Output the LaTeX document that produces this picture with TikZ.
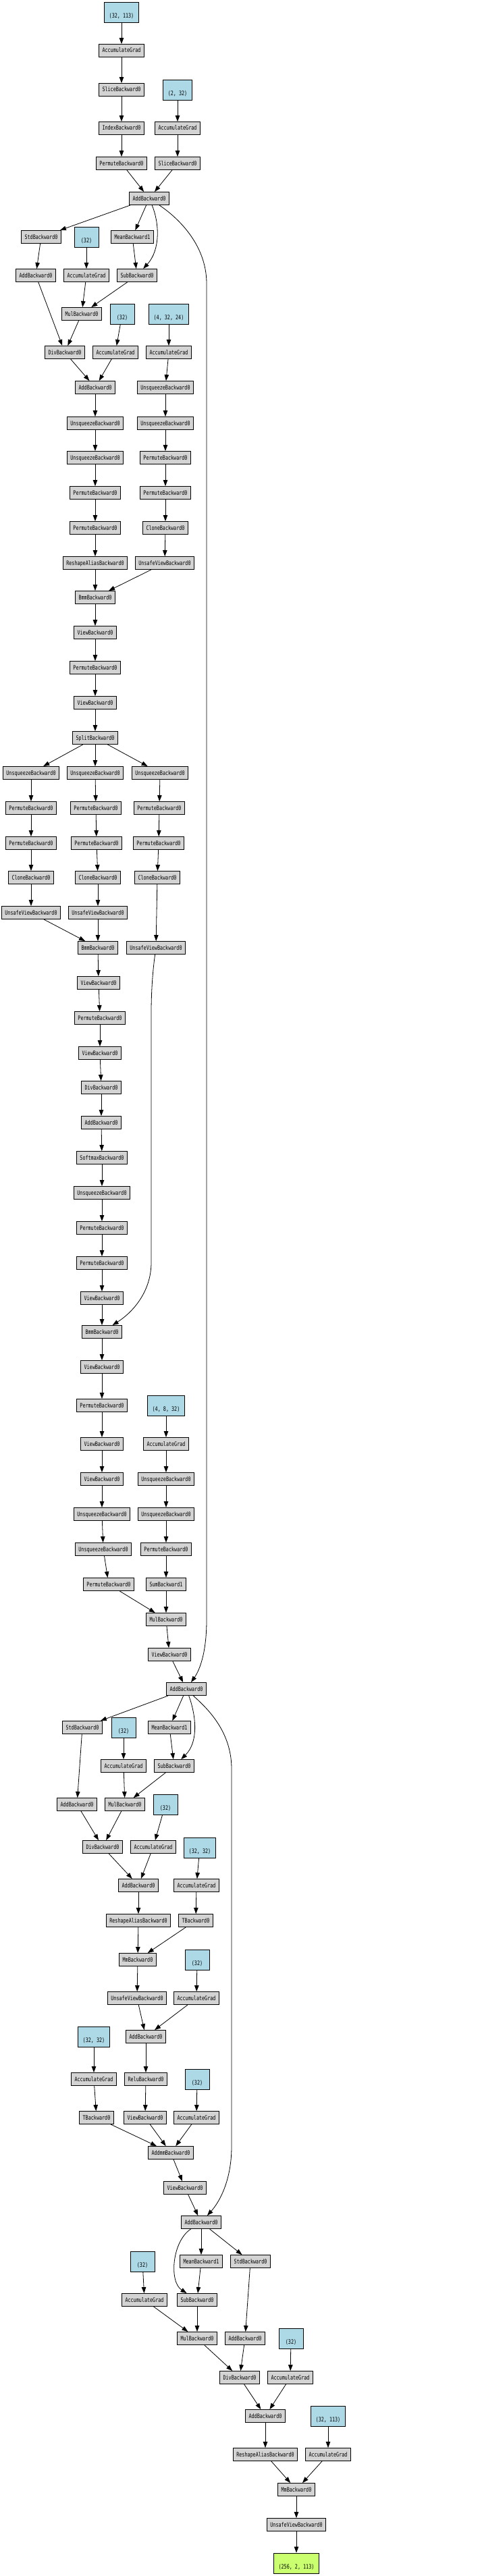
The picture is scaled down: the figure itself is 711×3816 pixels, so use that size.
\documentclass[tikz,border=0pt]{standalone}
\usepackage{fontspec}
\newfontfamily\gvfont[FakeStretch=0.75]{DejaVu Sans Mono}
\usetikzlibrary{arrows.meta}
\definecolor{gvgray}{HTML}{D3D3D3}
\definecolor{gvblue}{HTML}{ADD8E6}
\definecolor{gvgreen}{HTML}{CAFF70}
\begin{document}
\begin{tikzpicture}[x=1pt,y=-1pt,
  gn/.style={draw=black, line width=0.9pt, fill=gvgray, rectangle, inner xsep=5pt, inner ysep=0pt,
    minimum height=19pt, text height=6.6pt, text depth=0.6pt, font=\gvfont\fontsize{9}{11}\selectfont},
  bn/.style={draw=black, line width=0.9pt, fill=gvblue, rectangle, inner xsep=7pt, inner ysep=0pt,
    minimum height=30pt, minimum width=36pt, align=center, font=\gvfont\fontsize{9}{11}\selectfont},
  on/.style={bn, fill=gvgreen},
  conn/.style={draw=black, line width=0.8pt, -{Triangle[length=9pt,width=6.5pt]}}]
\fill[white] (0,0) rectangle (711,3816);
\useasboundingbox (0,0) rectangle (711,3816);
% ---- top
\node[bn] (p1) at (180,18) {\strut\\(32, 113)};
\node[gn] (ag1) at (180,75) {AccumulateGrad};
\node[gn] (sl1) at (180,133) {SliceBackward0};
\node[gn] (idx) at (180,190) {IndexBackward0};
\node[gn] (pm1) at (180,242) {PermuteBackward0};
\node[bn] (p2) at (263,133) {\strut\\(2, 32)};
\node[gn] (ag2) at (263,190) {AccumulateGrad};
\node[gn] (sl2) at (263,242) {SliceBackward0};
\node[gn] (add1) at (221,294) {AddBackward0};
% ---- layer norm 1
\node[gn] (std1) at (61,351) {StdBackward0};
\node[bn] (p3) at (128,351) {\strut\\(32)};
\node[gn] (mean1) at (196,351) {MeanBackward1};
\node[gn] (add2) at (53,408) {AddBackward0};
\node[gn] (ag3) at (128,408) {AccumulateGrad};
\node[gn] (sub1) at (203,408) {SubBackward0};
\node[gn] (mul1) at (121,465) {MulBackward0};
\node[bn] (p4) at (181,465) {\strut\\(32)};
\node[bn] (p5) at (250,465) {\strut\\(4, 32, 24)};
\node[gn] (div1) at (96,522) {DivBackward0};
\node[gn] (ag4) at (171,522) {AccumulateGrad};
\node[gn] (ag5) at (250,522) {AccumulateGrad};
\node[gn] (add3) at (141,574) {AddBackward0};
\node[gn] (unsqR1) at (245,574) {UnsqueezeBackward0};
\node[gn] (unsq1) at (141,627) {UnsqueezeBackward0};
\node[gn] (unsqR2) at (245,627) {UnsqueezeBackward0};
\node[gn] (unsq2) at (141,678) {UnsqueezeBackward0};
\node[gn] (pmR1) at (245,678) {PermuteBackward0};
\node[gn] (pm2) at (141,730) {PermuteBackward0};
\node[gn] (pmR2) at (245,730) {PermuteBackward0};
\node[gn] (pm3) at (141,782) {PermuteBackward0};
\node[gn] (clR) at (245,782) {CloneBackward0};
\node[gn] (rsh1) at (141,834) {ReshapeAliasBackward0};
\node[gn] (uvR) at (244,834) {UnsafeViewBackward0};
\node[gn] (bmm1) at (141,885) {BmmBackward0};
\node[gn] (view1) at (141,937) {ViewBackward0};
\node[gn] (pm4) at (141,989) {PermuteBackward0};
\node[gn] (view2) at (141,1041) {ViewBackward0};
\node[gn] (split) at (141,1093) {SplitBackward0};
\node[gn] (unsqA) at (46,1145) {UnsqueezeBackward0};
\node[gn] (unsqB) at (141,1145) {UnsqueezeBackward0};
\node[gn] (unsqC) at (237,1145) {UnsqueezeBackward0};
\node[gn] (pmA1) at (46,1197) {PermuteBackward0};
\node[gn] (pmB1) at (142,1197) {PermuteBackward0};
\node[gn] (pmC1) at (236,1197) {PermuteBackward0};
\node[gn] (pmA2) at (46,1249) {PermuteBackward0};
\node[gn] (pmB2) at (143,1249) {PermuteBackward0};
\node[gn] (pmC2) at (235,1249) {PermuteBackward0};
\node[gn] (clA) at (46,1300) {CloneBackward0};
\node[gn] (clB) at (145,1300) {CloneBackward0};
\node[gn] (clC) at (233,1300) {CloneBackward0};
\node[gn] (uvA) at (46,1352) {UnsafeViewBackward0};
\node[gn] (uvB) at (145,1352) {UnsafeViewBackward0};
\node[gn] (bmm2) at (145,1404) {BmmBackward0};
\node[gn] (uvC) at (231,1404) {UnsafeViewBackward0};
\node[gn] (view3) at (146,1456) {ViewBackward0};
\node[gn] (pm5) at (148,1508) {PermuteBackward0};
\node[gn] (view4) at (148,1560) {ViewBackward0};
\node[gn] (div2) at (150,1611) {DivBackward0};
\node[gn] (add4) at (150,1663) {AddBackward0};
\node[gn] (soft) at (151,1715) {SoftmaxBackward0};
\node[gn] (unsq3) at (151,1767) {UnsqueezeBackward0};
\node[gn] (pm6) at (151,1819) {PermuteBackward0};
\node[gn] (pm7) at (151,1871) {PermuteBackward0};
\node[gn] (view5) at (151,1923) {ViewBackward0};
\node[gn] (bmm3) at (151,1973) {BmmBackward0};
\node[gn] (view6) at (151,2025) {ViewBackward0};
\node[gn] (pm8) at (151,2082) {PermuteBackward0};
\node[bn] (p6) at (246,2082) {\strut\\(4, 8, 32)};
\node[gn] (view7) at (151,2139) {ViewBackward0};
\node[gn] (ag6) at (246,2139) {AccumulateGrad};
\node[gn] (view8) at (151,2191) {ViewBackward0};
\node[gn] (unsqD) at (246,2191) {UnsqueezeBackward0};
\node[gn] (unsq4) at (151,2243) {UnsqueezeBackward0};
\node[gn] (unsqE) at (246,2243) {UnsqueezeBackward0};
\node[gn] (unsq5) at (153,2295) {UnsqueezeBackward0};
\node[gn] (pmD) at (246,2295) {PermuteBackward0};
\node[gn] (pm9) at (161,2347) {PermuteBackward0};
\node[gn] (sum) at (246,2347) {SumBackward1};
\node[gn] (mul2) at (246,2399) {MulBackward0};
\node[gn] (view9) at (251,2451) {ViewBackward0};
\node[gn] (add5) at (276,2502) {AddBackward0};
% ---- layer norm 2 + ffn
\node[gn] (std2) at (122,2559) {StdBackward0};
\node[bn] (p7) at (183,2559) {\strut\\(32)};
\node[gn] (mean2) at (251,2559) {MeanBackward1};
\node[gn] (ag7) at (183,2616) {AccumulateGrad};
\node[gn] (sub2) at (258,2616) {SubBackward0};
\node[gn] (add6) at (114,2673) {AddBackward0};
\node[gn] (mul3) at (185,2673) {MulBackward0};
\node[bn] (p8) at (245,2673) {\strut\\(32)};
\node[gn] (div3) at (152,2736) {DivBackward0};
\node[gn] (ag8) at (227,2736) {AccumulateGrad};
\node[bn] (p9) at (296,2737) {\strut\\(32, 32)};
\node[gn] (add7) at (205,2793) {AddBackward0};
\node[gn] (ag9) at (291,2793) {AccumulateGrad};
\node[gn] (rsh2) at (205,2845) {ReshapeAliasBackward0};
\node[gn] (tb1) at (290,2845) {TBackward0};
\node[gn] (mm1) at (204,2903) {MmBackward0};
\node[bn] (p10) at (292,2903) {\strut\\(32)};
\node[gn] (uv2) at (203,2960) {UnsafeViewBackward0};
\node[gn] (ag10) at (291,2960) {AccumulateGrad};
\node[bn] (p11) at (139,3017) {\strut\\(32, 32)};
\node[gn] (add8) at (216,3017) {AddBackward0};
\node[gn] (ag11) at (139,3080) {AccumulateGrad};
\node[gn] (relu) at (216,3080) {ReluBackward0};
\node[bn] (p12) at (292,3080) {\strut\\(32)};
\node[gn] (tb2) at (143,3137) {TBackward0};
\node[gn] (view10) at (215,3137) {ViewBackward0};
\node[gn] (ag12) at (291,3137) {AccumulateGrad};
\node[gn] (addmm) at (253,3189) {AddmmBackward0};
\node[gn] (view11) at (274,3241) {ViewBackward0};
\node[gn] (add9) at (298,3292) {AddBackward0};
% ---- layer norm 3 + output
\node[bn] (p13) at (211,3350) {\strut\\(32)};
\node[gn] (mean3) at (298,3350) {MeanBackward1};
\node[gn] (std3) at (371,3350) {StdBackward0};
\node[gn] (ag13) at (214,3407) {AccumulateGrad};
\node[gn] (sub3) at (292,3407) {SubBackward0};
\node[gn] (mul4) at (292,3464) {MulBackward0};
\node[gn] (add10) at (363,3464) {AddBackward0};
\node[bn] (p14) at (431,3464) {\strut\\(32)};
\node[gn] (div4) at (355,3522) {DivBackward0};
\node[gn] (ag14) at (430,3522) {AccumulateGrad};
\node[gn] (add11) at (393,3579) {AddBackward0};
\node[bn] (p15) at (486,3579) {\strut\\(32, 113)};
\node[gn] (rsh3) at (393,3636) {ReshapeAliasBackward0};
\node[gn] (ag15) at (486,3636) {AccumulateGrad};
\node[gn] (mm2) at (439,3688) {MmBackward0};
\node[gn] (uv3) at (439,3740) {UnsafeViewBackward0};
\node[on] (out) at (439,3797) {\strut\\(256, 2, 113)};
% ---- straight connectors
\foreach \a/\b in {p1/ag1, ag1/sl1, sl1/idx, idx/pm1, pm1/add1, p2/ag2, ag2/sl2, sl2/add1,
  add1/std1, add1/mean1, std1/add2, mean1/sub1, p3/ag3, ag3/mul1, sub1/mul1, add2/div1, mul1/div1,
  p4/ag4, div1/add3, ag4/add3, p5/ag5, ag5/unsqR1, unsqR1/unsqR2, unsqR2/pmR1, pmR1/pmR2, pmR2/clR,
  clR/uvR, uvR/bmm1, add3/unsq1, unsq1/unsq2, unsq2/pm2, pm2/pm3, pm3/rsh1, rsh1/bmm1, bmm1/view1,
  view1/pm4, pm4/view2, view2/split, split/unsqA, split/unsqB, split/unsqC,
  unsqA/pmA1, unsqB/pmB1, unsqC/pmC1, pmA1/pmA2, pmB1/pmB2, pmC1/pmC2, pmA2/clA, pmB2/clB, pmC2/clC,
  clA/uvA, clB/uvB, clC/uvC, uvA/bmm2, uvB/bmm2, bmm2/view3, view3/pm5, pm5/view4, view4/div2,
  div2/add4, add4/soft, soft/unsq3, unsq3/pm6, pm6/pm7, pm7/view5, view5/bmm3, bmm3/view6, view6/pm8,
  pm8/view7, view7/view8, view8/unsq4, unsq4/unsq5, unsq5/pm9, pm9/mul2, p6/ag6, ag6/unsqD,
  unsqD/unsqE, unsqE/pmD, pmD/sum, sum/mul2, mul2/view9, view9/add5,
  add5/std2, add5/mean2, std2/add6, mean2/sub2, p7/ag7, ag7/mul3, sub2/mul3, add6/div3, mul3/div3,
  p8/ag8, div3/add7, ag8/add7, p9/ag9, ag9/tb1, add7/rsh2, rsh2/mm1, tb1/mm1, mm1/uv2, uv2/add8,
  p10/ag10, ag10/add8, add8/relu, relu/view10, view10/addmm, p11/ag11, ag11/tb2, tb2/addmm,
  p12/ag12, ag12/addmm, addmm/view11, view11/add9,
  add9/mean3, add9/std3, mean3/sub3, sub3/mul4, p13/ag13, ag13/mul4, std3/add10, mul4/div4,
  add10/div4, p14/ag14, div4/add11, ag14/add11, add11/rsh3, p15/ag15, rsh3/mm2, ag15/mm2,
  mm2/uv3, uv3/out}
  \draw[conn] (\a) -- (\b);
% ---- curved connectors
\draw[conn] (add1) .. controls (236,330) and (238,370) .. (sub1);
\draw[conn] (add1) .. controls (260,320) and (306,360) .. (306,420) -- (306,2400)
  .. controls (306,2450) and (295,2475) .. (add5);
\draw[conn] (uvC) .. controls (226,1440) and (224,1470) .. (224,1500) -- (224,1870)
  .. controls (224,1915) and (195,1945) .. (bmm3);
\draw[conn] (add5) .. controls (290,2540) and (295,2580) .. (sub2);
\draw[conn] (add5) .. controls (300,2525) and (343,2560) .. (343,2620) -- (343,3180)
  .. controls (343,3230) and (325,3262) .. (add9);
\draw[conn] (add9) .. controls (255,3320) and (250,3380) .. (sub3);
\end{tikzpicture}
\end{document}
